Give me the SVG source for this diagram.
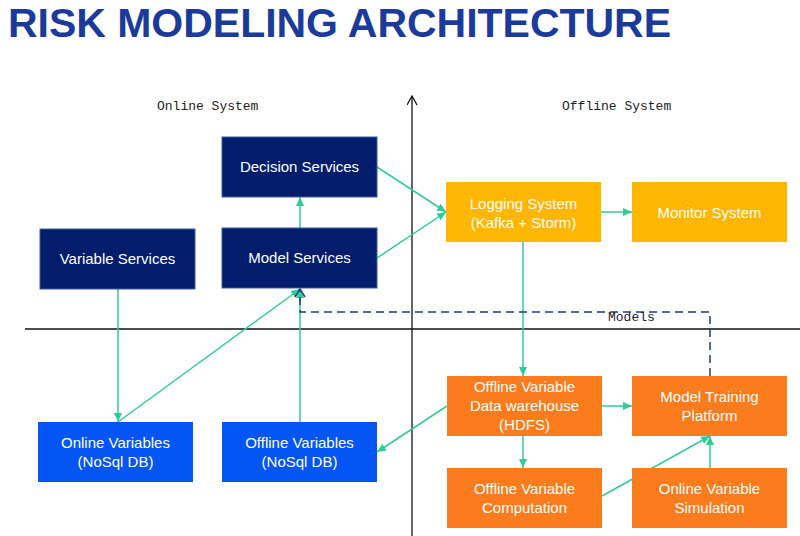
<svg xmlns="http://www.w3.org/2000/svg" width="800" height="536" viewBox="0 0 800 536">
<style>
.t{font-family:"Liberation Sans",Arial,sans-serif;font-size:15px;fill:#fff;text-anchor:middle}
.m{font-family:"Liberation Mono","DejaVu Sans Mono",monospace;font-size:13px;fill:#222}
.c{stroke:#2fcc95;stroke-width:1.5;fill:none;marker-end:url(#g)}
.dark{fill:#011d6b;stroke:#3a5aa8;stroke-width:1}
.yel{fill:#ffb600}
.or{fill:#fb7c1c}
.bl{fill:#0555f5}
</style>
<defs>
<marker id="g" markerWidth="10" markerHeight="10" refX="9" refY="5" orient="auto" markerUnits="userSpaceOnUse"><path d="M0,1 L9,5 L0,9 z" fill="#2fcc95"/></marker>
<marker id="k" markerWidth="12" markerHeight="12" refX="10" refY="5" orient="auto" markerUnits="userSpaceOnUse"><path d="M1,0 L10,5 L1,10" fill="none" stroke="#111" stroke-width="1.3"/></marker>
<marker id="d" markerWidth="12" markerHeight="12" refX="6" refY="1" orient="0" markerUnits="userSpaceOnUse"><path d="M1,9 L6,1 L11,9" fill="none" stroke="#1f3a8a" stroke-width="1.5"/></marker>
</defs>
<rect width="800" height="536" fill="#fff"/>
<text x="8" y="37" font-family="Liberation Sans,Arial,sans-serif" font-weight="bold" font-size="41" fill="#1a3b9c" textLength="663">RISK MODELING ARCHITECTURE</text>
<g id="axes" stroke="#111" stroke-width="1.3">
<line x1="412" y1="536" x2="412" y2="96" marker-end="url(#k)"/>
<line x1="25" y1="329" x2="800" y2="329"/>
</g>
<text class="m" x="157" y="110">Online System</text>
<text class="m" x="562" y="110">Offline System</text>
<g id="connectors">
<line class="c" x1="377" y1="167" x2="446" y2="212"/>
<line class="c" x1="377" y1="258" x2="446" y2="212"/>
<line class="c" x1="300" y1="228" x2="300" y2="197"/>
<line class="c" x1="601" y1="212" x2="632" y2="212"/>
<line class="c" x1="523" y1="242" x2="523" y2="376"/>
<line class="c" x1="118" y1="289" x2="118" y2="422"/>
<line class="c" x1="118" y1="422" x2="300" y2="289"/>
<line class="c" x1="300" y1="422" x2="300" y2="289"/>
<line class="c" x1="447" y1="406" x2="377" y2="452"/>
<line class="c" x1="602" y1="406" x2="632" y2="406"/>
<line class="c" x1="523" y1="436" x2="523" y2="468"/>
<line class="c" x1="602" y1="496" x2="710" y2="436"/>
<line class="c" x1="710" y1="468" x2="710" y2="436"/>
<path d="M710,376 V312 H300 V289" fill="none" stroke="#1f3a8a" stroke-width="1.5" stroke-dasharray="8,5" marker-end="url(#d)"/>
<text class="m" x="608" y="321">Models</text>
</g>
<g id="decision"><rect class="dark" x="222" y="137" width="155" height="60"/><text class="t" x="299.5" y="172">Decision Services</text></g>
<g id="model"><rect class="dark" x="222" y="228" width="155" height="60"/><text class="t" x="299.5" y="263">Model Services</text></g>
<g id="variable"><rect class="dark" x="40" y="229" width="155" height="60"/><text class="t" x="117.5" y="264">Variable Services</text></g>
<g id="logging"><rect class="yel" x="446" y="182" width="155" height="60"/><text class="t" x="523.5" y="209">Logging System</text><text class="t" x="523.5" y="228">(Kafka + Storm)</text></g>
<g id="monitor"><rect class="yel" x="632" y="182" width="155" height="60"/><text class="t" x="709.5" y="218">Monitor System</text></g>
<g id="dw"><rect class="or" x="447" y="376" width="155" height="60"/><text class="t" x="524.5" y="392">Offline Variable</text><text class="t" x="524.5" y="411">Data warehouse</text><text class="t" x="524.5" y="430">(HDFS)</text></g>
<g id="mtp"><rect class="or" x="632" y="376" width="155" height="60"/><text class="t" x="709.5" y="402">Model Training</text><text class="t" x="709.5" y="421">Platform</text></g>
<g id="comp"><rect class="or" x="447" y="468" width="155" height="60"/><text class="t" x="524.5" y="494">Offline Variable</text><text class="t" x="524.5" y="513">Computation</text></g>
<g id="sim"><rect class="or" x="632" y="468" width="155" height="60"/><text class="t" x="709.5" y="494">Online Variable</text><text class="t" x="709.5" y="513">Simulation</text></g>
<g id="onlinevars"><rect class="bl" x="38" y="422" width="155" height="60"/><text class="t" x="115.5" y="448">Online Variables</text><text class="t" x="115.5" y="467">(NoSql DB)</text></g>
<g id="offlinevars"><rect class="bl" x="222" y="422" width="155" height="60"/><text class="t" x="299.5" y="448">Offline Variables</text><text class="t" x="299.5" y="467">(NoSql DB)</text></g>
</svg>
